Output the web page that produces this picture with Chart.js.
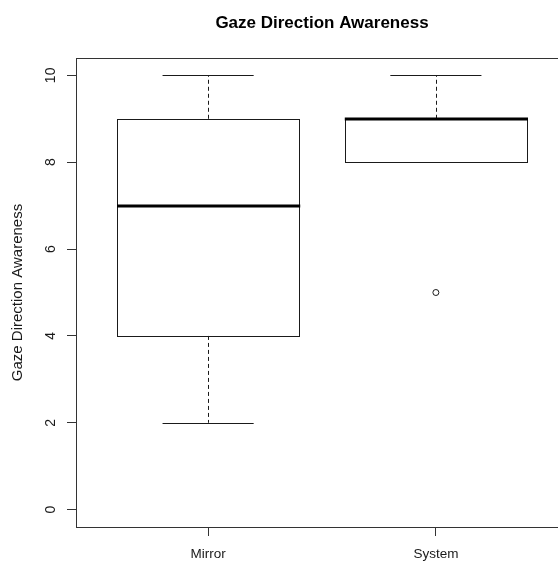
<!DOCTYPE html>
<html>
<head>
<meta charset="utf-8">
<script src="https://cdn.jsdelivr.net/npm/chart.js@4"></script>
<style>
  html, body { margin: 0; padding: 0; background: #fff; }
  #wrap { width: 558px; height: 561px; overflow: hidden; }
  #wrap div { width: 590px; height: 561px; }
</style>
</head>
<body>
<div id="wrap"><div><canvas id="gazeChart"></canvas></div></div>
<script>
// boxplot data
const groups = ['Mirror', 'System'];
const whiskerLow = [2, 8];
const lowerQuartile = [4, 8];
const medians = [7, 9];
const upperQuartile = [9, 9];
const whiskerHigh = [10, 10];
const outliers = [[], [5]];
const yTicks = [0, 2, 4, 6, 8, 10];

const ink = '#1a1a1a';

// outlier points as a scatter dataset
const outlierPoints = [];
outliers.forEach(function (list, i) {
    list.forEach(function (v) { outlierPoints.push({ x: i + 1, y: v }); });
});

// draws frame + boxes using the chart scales
const boxPlugin = {
    id: 'boxes',
    beforeDatasetsDraw(chart) {
        const ctx = chart.ctx;
        const xs = chart.scales.x;
        const ys = chart.scales.y;
        const area = chart.chartArea;
        ctx.save();
        ctx.strokeStyle = '#333';
        ctx.lineWidth = 1;
        ctx.strokeRect(area.left + 0.5, area.top + 0.5, area.right - area.left, area.bottom - area.top);

        groups.forEach(function (g, i) {
            const left = xs.getPixelForValue(i + 1 - 0.4);
            const right = xs.getPixelForValue(i + 1 + 0.4);
            const capL = xs.getPixelForValue(i + 1 - 0.2);
            const capR = xs.getPixelForValue(i + 1 + 0.2);
            const mid = Math.round(xs.getPixelForValue(i + 1)) + 0.5;
            const yLo = ys.getPixelForValue(whiskerLow[i]);
            const yQ1 = ys.getPixelForValue(lowerQuartile[i]);
            const yMed = ys.getPixelForValue(medians[i]);
            const yQ3 = ys.getPixelForValue(upperQuartile[i]);
            const yHi = ys.getPixelForValue(whiskerHigh[i]);

            ctx.strokeStyle = ink;
            ctx.lineWidth = 1;
            // whiskers (dashed)
            ctx.setLineDash([4, 3]);
            ctx.beginPath();
            if (yHi < yQ3) { ctx.moveTo(mid, yQ3); ctx.lineTo(mid, yHi); }
            if (yLo > yQ1) { ctx.moveTo(mid, yQ1); ctx.lineTo(mid, yLo); }
            ctx.stroke();
            ctx.setLineDash([]);
            // caps
            ctx.beginPath();
            ctx.moveTo(capL, Math.round(yHi) + 0.5); ctx.lineTo(capR, Math.round(yHi) + 0.5);
            ctx.moveTo(capL, Math.round(yLo) + 0.5); ctx.lineTo(capR, Math.round(yLo) + 0.5);
            ctx.stroke();
            // box
            ctx.strokeRect(Math.round(left) + 0.5, Math.round(yQ3) + 0.5, Math.round(right - left), Math.round(yQ1 - yQ3));
            // median
            ctx.lineWidth = 3;
            ctx.strokeStyle = '#000';
            ctx.beginPath();
            ctx.moveTo(left, Math.round(yMed));
            ctx.lineTo(right + 1, Math.round(yMed));
            ctx.stroke();
        });
        ctx.restore();
    }
};

Chart.defaults.font.family = '"Liberation Sans", Arial, sans-serif';
Chart.defaults.color = ink;

new Chart(document.getElementById('gazeChart'), {
    type: 'scatter',
    data: {
        datasets: [{
            data: outlierPoints,
            pointStyle: 'circle',
            pointRadius: 3,
            pointBorderWidth: 1,
            pointBorderColor: ink,
            pointBackgroundColor: 'rgba(0,0,0,0)',
            pointHoverRadius: 3
        }]
    },
    options: {
        responsive: true,
        maintainAspectRatio: false,
        animation: false,
        events: [],
        layout: { padding: { left: 0, right: 22, top: 0, bottom: 0 } },
        plugins: {
            legend: { display: false },
            tooltip: { enabled: false },
            title: {
                display: true,
                text: 'Gaze Direction Awareness',
                fullSize: false,
                color: '#000',
                font: { size: 17, weight: 'bold' },
                padding: { top: 13, bottom: 24.6 }
            }
        },
        scales: {
            x: {
                type: 'linear',
                min: 0.42,
                max: 2.58,
                afterBuildTicks: function (scale) {
                    scale.ticks = groups.map(function (g, i) { return { value: i + 1 }; });
                },
                afterFit: function (scale) { scale.height = 34; },
                border: { display: false },
                grid: { drawOnChartArea: false, drawTicks: true, tickLength: 9, color: '#333' },
                ticks: {
                    autoSkip: false,
                    maxRotation: 0,
                    padding: 10.5,
                    font: { size: 13.5 },
                    callback: function (v) { return groups[v - 1]; }
                }
            },
            y: {
                min: -0.4,
                max: 10.4,
                afterBuildTicks: function (scale) {
                    scale.ticks = yTicks.map(function (v) { return { value: v }; });
                },
                afterFit: function (scale) { scale.width = 76; },
                border: { display: false },
                grid: { drawOnChartArea: false, drawTicks: true, tickLength: 9, color: '#333' },
                title: {
                    display: true,
                    text: 'Gaze Direction Awareness',
                    font: { size: 15 },
                    padding: { top: 9, bottom: 0 }
                },
                ticks: {
                    minRotation: 90,
                    maxRotation: 90,
                    crossAlign: 'center',
                    padding: 8,
                    font: { size: 14 }
                }
            }
        }
    },
    plugins: [boxPlugin]
});
</script>
</body>
</html>
